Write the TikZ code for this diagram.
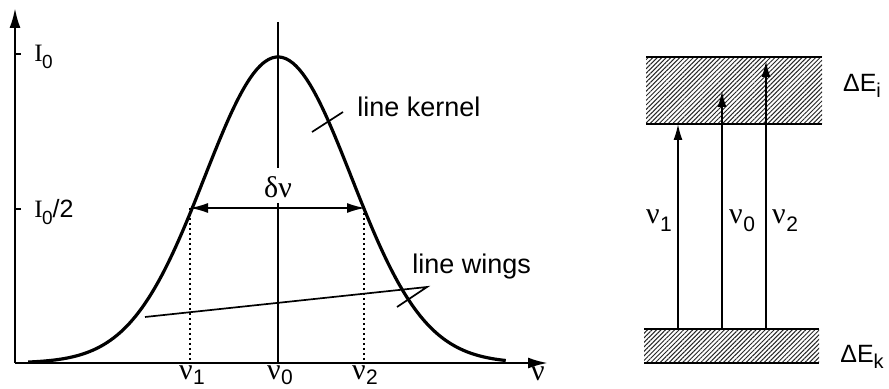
\documentclass[tikz,border=0pt]{standalone}
\usepackage{fontspec}
\setmainfont{Liberation Sans}
\newfontfamily\grk{Liberation Serif}
\usetikzlibrary{arrows.meta,patterns.meta}
\newcommand{\nus}[1]{{\grk ν}\kern0.3pt\raisebox{-0.5ex}{\fontsize{10.5}{11}\selectfont #1}}
\newcommand{\nub}[1]{{\grk ν}\kern0.3pt\raisebox{-0.3ex}{\fontsize{10.5}{11}\selectfont #1}}
\newcommand{\Izero}{{\grk I}\kern-0.3pt\raisebox{-0.5ex}{\fontsize{9.5}{10}\selectfont 0}}
\begin{document}
\begin{tikzpicture}[x=0.5pt,y=-0.5pt,
  axis/.style={line width=1.2pt,-{Latex[length=10pt,width=5.5pt]}},
  curve/.style={line width=1.6pt},
  thin/.style={line width=0.85pt},
  dotline/.style={line width=0.9pt,dash pattern=on 1pt off 1.5pt},
  halfarrow/.style={line width=0.85pt,{Latex[length=9pt,width=5pt]}-{Latex[length=9pt,width=5pt]}},
  trans/.style={line width=0.85pt,-{Latex[length=8pt,width=4.5pt]}},
  band/.style={pattern={Lines[angle=45,distance=1.6pt,line width=0.5pt]},pattern color=black!85},
  bandline/.style={line width=1.2pt},
  lbl/.style={font=\fontsize{13.5}{16}\selectfont,inner sep=0pt},
  nul/.style={font=\fontsize{15}{17}\selectfont,inner sep=0pt},
  sml/.style={font=\fontsize{12.5}{14}\selectfont,inner sep=0pt}]
\useasboundingbox (0,0) rectangle (889,389);
% axes
\coordinate (O) at (15,363);
\coordinate (ytop) at (15,8);
\coordinate (xend) at (548,363);
\draw[axis] (O) -- (ytop);
\draw[axis] (O) -- (xend);
\node[nul,anchor=north] (nuaxis) at (538,366) {{\grk ν}};
% ticks
\coordinate (t0a) at (15,54); \coordinate (t0b) at (21,54);
\coordinate (t1a) at (15,209); \coordinate (t1b) at (21,209);
\draw[thin] (t0a) -- (t0b);
\draw[thin] (t1a) -- (t1b);
\node[sml,anchor=west] (I0) at (34,57) {\Izero};
\node[sml,anchor=west] (I02) at (34,212) {\Izero/2};
% gaussian
\draw[curve] plot[domain=-3.4:3.1,samples=140,smooth] ({278+73.5*\x},{363-306*exp(-0.5*(\x)*(\x))});
% centre line
\coordinate (c0) at (278,22); \coordinate (c1) at (278,168);
\coordinate (c2) at (278,203); \coordinate (c3) at (278,363);
\draw[thin] (c0) -- (c1);
\draw[thin] (c2) -- (c3);
\node[nul] (dnu) at (278,187) {{\grk δν}};
% half width
\coordinate (h1) at (190,208); \coordinate (h2) at (365,208);
\coordinate (b1) at (190,363); \coordinate (b2) at (364,363);
\draw[halfarrow] (h1) -- (h2);
\draw[dotline] (h1) -- (b1);
\draw[dotline] (364,208) -- (b2);
\node[nul,anchor=base] (n1) at (192,380) {\nub{1}};
\node[nul,anchor=base] (n0) at (280,380) {\nub{0}};
\node[nul,anchor=base] (n2) at (365,380) {\nub{2}};
% labels
\node[lbl,anchor=west] (kern) at (357,107) {line kernel};
\coordinate (k1) at (312,132); \coordinate (k2) at (343,112);
\draw[thin] (k1) -- (k2);
\node[lbl,anchor=west] (wing) at (412,267) {line wings};
\coordinate (w1) at (145,317); \coordinate (w2) at (427,287); \coordinate (w3) at (397,307);
\draw[thin] (w1) -- (w2) -- (w3);
% right diagram: bands
\fill[band] (646,57) rectangle (822,124);
\draw[bandline] (646,57) -- (822,57);
\draw[bandline] (646,124) -- (822,124);
\fill[band] (644,329) rectangle (819,363);
\draw[bandline] (644,329) -- (819,329);
\draw[bandline] (644,363) -- (819,363);
% transitions
\coordinate (a1) at (678,329); \coordinate (e1) at (678,124);
\coordinate (a0) at (722,329); \coordinate (e0) at (722,91);
\coordinate (a2) at (766,329); \coordinate (e2) at (766,61);
\draw[trans] (a1) -- (e1);
\draw[trans] (a0) -- (e0);
\draw[trans] (a2) -- (e2);
\node[nul] (r1) at (659,221) {\nus{1}};
\node[nul] (r0) at (742,221) {\nus{0}};
\node[nul] (r2) at (785,221) {\nus{2}};
\node[sml] (Ei) at (862,86) {ΔE\raisebox{-0.5ex}{\fontsize{10}{11}\selectfont i}};
\node[sml] (Ek) at (862,357) {ΔE\raisebox{-0.5ex}{\fontsize{10}{11}\selectfont k}};
\end{tikzpicture}
\end{document}
